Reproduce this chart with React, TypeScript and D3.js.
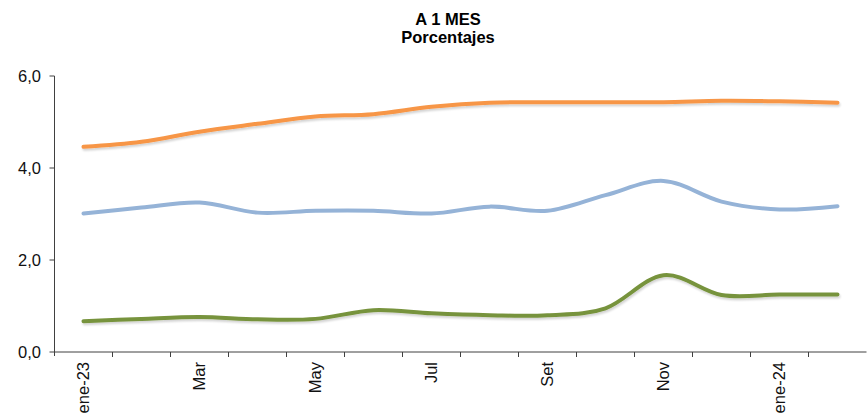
import React from "react";
import * as d3 from "d3";

const categories = ["ene-23","feb-23","mar-23","abr-23","may-23","jun-23","jul-23","ago-23","set-23","oct-23","nov-23","dic-23","ene-24","feb-24"];
const tickLabels = ["ene-23","","Mar","","May","","Jul","","Set","","Nov","","ene-24",""];
const seriesOrange = [4.46,4.57,4.79,4.96,5.12,5.17,5.33,5.42,5.43,5.43,5.43,5.46,5.45,5.42];
const seriesBlue = [3.01,3.14,3.25,3.03,3.07,3.07,3.01,3.16,3.07,3.41,3.72,3.27,3.10,3.17];
const seriesGreen = [0.67,0.72,0.76,0.71,0.72,0.91,0.84,0.80,0.80,0.95,1.67,1.24,1.25,1.25];
const yTicks = [0, 2, 4, 6];

const W = 867, H = 418;
const left = 54.5, right = 866.5, top = 76, bottom = 352;

export default function App() {
  const x = d3.scaleBand<string>().domain(categories).range([left, right]).padding(0);
  const y = d3.scaleLinear().domain([0, 6]).range([bottom, top]);
  const cx = (c: string) => (x(c) as number) + x.bandwidth() / 2;
  const line = d3.line<number>()
    .x((_, i) => cx(categories[i]))
    .y((v) => y(v))
    .curve(d3.curveCatmullRom.alpha(0));
  const fmt = (v: number) => v.toFixed(1).replace(".", ",");
  const font = "'Liberation Sans', Arial, sans-serif";
  const series = [
    { data: seriesOrange, color: "#F79646", shadow: true },
    { data: seriesBlue, color: "#95B3D7", shadow: false },
    { data: seriesGreen, color: "#77933C", shadow: true },
  ];
  const boundaries = d3.range(categories.length + 1).map((i) => left + i * x.bandwidth());
  return (
    <svg width={W} height={H} style={{ position: "absolute", left: 0, top: 0, background: "#fff" }} fontFamily={font}>
      <defs>
        <filter id="sh" x="-5%" y="-50%" width="110%" height="200%">
          <feGaussianBlur in="SourceAlpha" stdDeviation="1" />
          <feOffset dx="0.5" dy="1.5" result="b" />
          <feComponentTransfer><feFuncA type="linear" slope="0.18" /></feComponentTransfer>
          <feMerge><feMergeNode /><feMergeNode in="SourceGraphic" /></feMerge>
        </filter>
      </defs>
      <text x={448} y={25} textAnchor="middle" fontWeight="bold" fontSize={16.5}>A 1 MES</text>
      <text x={448} y={43} textAnchor="middle" fontWeight="bold" fontSize={16.5}>Porcentajes</text>
      {/* y axis */}
      <line x1={left} x2={left} y1={top} y2={bottom + 4} stroke="#404040" strokeWidth={1} />
      {yTicks.map((t) => (
        <g key={t}>
          <line x1={left - 5} x2={left} y1={y(t)} y2={y(t)} stroke="#404040" />
          <text x={41} y={y(t)} dy="0.36em" textAnchor="end" fontSize={16.5} fill="#111">{fmt(t)}</text>
        </g>
      ))}
      {/* x axis */}
      <line x1={left} x2={right} y1={bottom} y2={bottom} stroke="#404040" strokeWidth={1} />
      {boundaries.slice(1, -1).map((bx, i) => (
        <line key={i} x1={bx} x2={bx} y1={bottom} y2={bottom + 5} stroke="#404040" />
      ))}
      {categories.map((c, i) =>
        tickLabels[i] ? (
          <text key={c} transform={`translate(${cx(c)},${bottom + 10}) rotate(-90)`} textAnchor="end" dy="0.36em" fontSize={16.5} fill="#111">
            {tickLabels[i]}
          </text>
        ) : null
      )}
      {series.map((s, i) => (
        <path key={i} d={line(s.data) as string} fill="none" stroke={s.color} strokeWidth={4} strokeLinecap="round" strokeLinejoin="round" filter={s.shadow ? "url(#sh)" : undefined} />
      ))}
    </svg>
  );
}
